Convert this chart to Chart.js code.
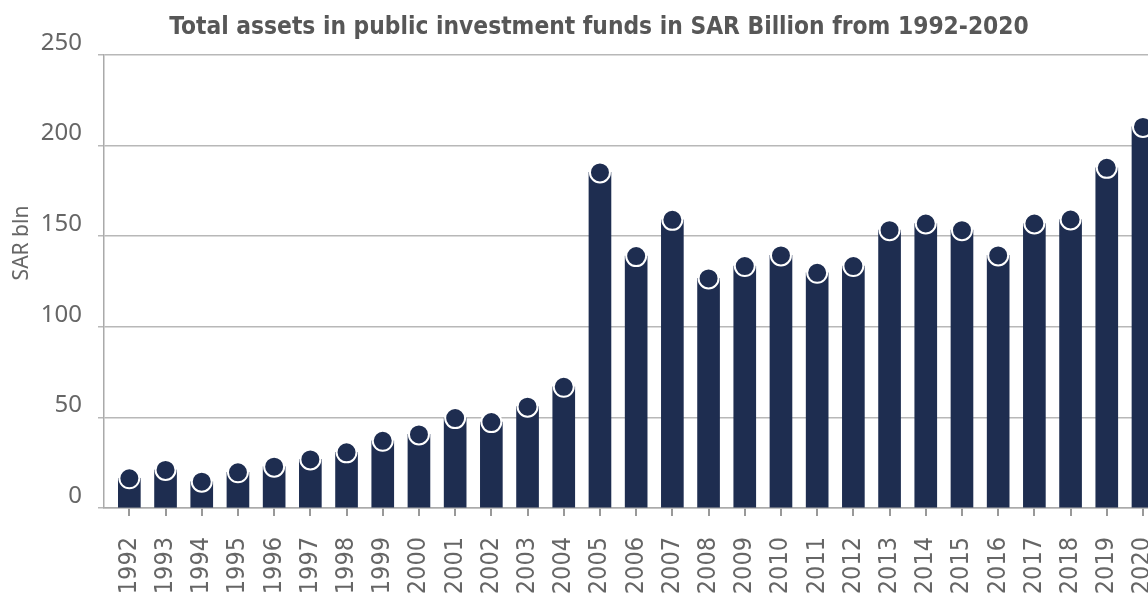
<!DOCTYPE html>
<html>
<head>
<meta charset="utf-8">
<script src="https://cdn.jsdelivr.net/npm/chart.js@4/dist/chart.umd.min.js"></script>
<style>
    html, body { margin: 0; padding: 0; overflow: hidden; background: #fff; }
    #wrap { width: 1198px; height: 593px; }
</style>
</head>
<body>
<div id="wrap"><canvas id="chart" width="1198" height="593"></canvas></div>
<script>
// ── Data ──
const years = [1992, 1993, 1994, 1995, 1996, 1997, 1998, 1999, 2000, 2001, 2002, 2003, 2004, 2005,
    2006, 2007, 2008, 2009, 2010, 2011, 2012, 2013, 2014, 2015, 2016, 2017, 2018, 2019, 2020];
const assets = [16.4, 21, 14.5, 19.7, 22.8, 26.8, 30.7, 37.1, 40.6, 49.6, 47.4, 55.9, 66.9, 185.2,
    139, 159, 126.7, 133.5, 139.4, 129.8, 133.5, 153.3, 157, 153.3, 139.4, 157, 159.2, 187.7, 210.3];
const yTicks = [0, 50, 100, 150, 200, 250];
const chartTitle = 'Total assets in public investment funds in SAR Billion from 1992-2020';
const yTitle = 'SAR bln';

const navy = '#1e2d50';
const textColor = '#666666';
const condensed = '"DejaVu Sans Condensed", "Liberation Sans Narrow", sans-serif';

// y axis title sits a bit above the axis centre in the original
const yTitlePlugin = {
    id: 'yTitle',
    afterDraw(chart) {
        const ctx = chart.ctx;
        ctx.save();
        ctx.translate(22, 243);
        ctx.rotate(-Math.PI / 2);
        ctx.font = '21px "Noto Sans"';
        ctx.fillStyle = textColor;
        ctx.textAlign = 'center';
        ctx.textBaseline = 'middle';
        ctx.fillText(yTitle, 0, 0);
        ctx.restore();
    }
};

new Chart(document.getElementById('chart'), {
    type: 'bar',
    data: {
        labels: years,
        datasets: [
            { type: 'line', data: assets, showLine: false, pointRadius: 10, pointHoverRadius: 10,
              pointBackgroundColor: navy, pointBorderColor: '#ffffff', pointBorderWidth: 2, order: 0 },
            { data: assets, backgroundColor: navy, borderWidth: 0, barThickness: 22, order: 1 }
        ]
    },
    options: {
        responsive: false,
        animation: false,
        layout: { padding: 0, autoPadding: false },
        plugins: {
            legend: { display: false },
            tooltip: { enabled: false },
            title: { display: true, text: chartTitle, color: '#575757',
                     font: { family: condensed, size: 24.3, weight: 'bold' }, padding: { top: 13, bottom: 12.8 } }
        },
        scales: {
            x: {
                type: 'linear', min: 1991.3, max: 2021.52, offset: false,
                afterBuildTicks: s => { s.ticks = years.map(v => ({ value: v })); },
                grid: { drawOnChartArea: false, offset: false, tickLength: 8, color: '#999999', lineWidth: 2 },
                border: { color: '#aaaaaa', width: 1.5 },
                ticks: { autoSkip: false, minRotation: 90, maxRotation: 90,
                         padding: 21, color: textColor, font: { family: condensed, size: 25 },
                         callback: v => String(v) },
                afterFit: s => { s.height = 85; s.paddingLeft = 0; s.paddingRight = 0; }
            },
            y: {
                min: 0, max: 250,
                afterBuildTicks: s => { s.ticks = yTicks.map(v => ({ value: v })); },
                grid: { color: '#b8b8b8', lineWidth: 1.5, tickLength: 6 },
                border: { color: '#aaaaaa', width: 1.5 },
                ticks: { padding: 16, labelOffset: -12, color: textColor, font: { family: '"Noto Sans"', size: 24 } },
                afterFit: s => { s.width = 104; }
            }
        }
    },
    plugins: [yTitlePlugin]
});
</script>
</body>
</html>
